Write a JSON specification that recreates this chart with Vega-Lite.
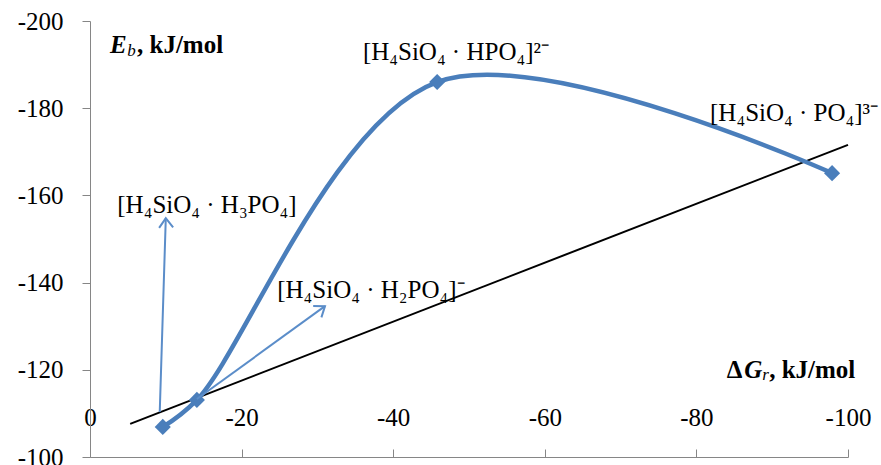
{
  "$schema": "https://vega.github.io/schema/vega-lite/v6.json",
  "width": 758,
  "height": 436,
  "autosize": "none",
  "padding": {"left": 90, "top": 21, "right": 33, "bottom": 8},
  "background": "white",
  "config": {"view": {"stroke": null}},
  "encoding": {
    "x": {"field": "x", "type": "quantitative",
      "scale": {"domain": [-100, 0], "reverse": true, "nice": false, "zero": false},
      "axis": {"title": null, "orient": "bottom", "values": [0, -20, -40, -60, -80, -100],
        "labelExpr": "'' + datum.value",
        "grid": false, "domainColor": "#868686", "domainWidth": 1, "tickColor": "#868686", "tickSize": -8,
        "labelFont": "Liberation Serif", "labelFontSize": 25, "labelColor": "#000000", "labelPadding": -32,
        "labelBaseline": "middle", "labelFlush": false, "labelOverlap": false}},
    "y": {"field": "y", "type": "quantitative",
      "scale": {"domain": [-200, -100], "reverse": true, "nice": false, "zero": false},
      "axis": {"title": null, "values": [-200, -180, -160, -140, -120, -100],
        "labelExpr": "'' + datum.value",
        "grid": false, "domainColor": "#868686", "domainWidth": 1, "tickColor": "#868686", "tickSize": 8,
        "labelFont": "Liberation Serif", "labelFontSize": 25, "labelColor": "#000000", "labelPadding": 19,
        "labelBaseline": "middle", "labelFlush": false, "labelOverlap": false}}
  },
  "layer": [
    {
      "data": {"values": [{"x": -5.3, "y": -107.6}, {"x": -100, "y": -171.6}]},
      "mark": {"type": "line", "color": "#000000", "strokeWidth": 2, "clip": false}
    },
    {
      "data": {"values": [
        {"x": -9.6, "y": -106.9},
        {"x": -14.1, "y": -113.1},
        {"x": -45.8, "y": -186.0},
        {"x": -97.9, "y": -165.1}
      ]},
      "layer": [
        {"mark": {"type": "line", "color": "#4A7EBB", "strokeWidth": 4.5, "interpolate": "catmull-rom"}},
        {"mark": {"type": "point", "shape": "diamond", "filled": true, "size": 260, "color": "#4A7EBB", "opacity": 1}}
      ]
    },
    {
      "data": {"values": [
        {"name": "a1", "x": -9.2, "y": -110.3, "x2": -10.0, "y2": -154.8},
        {"name": "a2", "x": -14.1, "y": -113.3, "x2": -31.0, "y2": -134.6}
      ]},
      "mark": {"type": "rule", "color": "#5B8DC9", "strokeWidth": 2},
      "encoding": {"x2": {"field": "x2"}, "y2": {"field": "y2"}}
    },
    {
      "data": {"values": [{"name": "a1", "x": -10.0, "y": -154.8}]},
      "mark": {"type": "point", "shape": "M-0.7,0.95L0,0L0.7,0.95", "filled": false, "size": 400, "color": "#5B8DC9", "strokeWidth": 2, "opacity": 1, "angle": -2}
    },
    {
      "data": {"values": [{"name": "a2", "x": -31.0, "y": -134.6}]},
      "mark": {"type": "point", "shape": "M-0.7,0.95L0,0L0.7,0.95", "filled": false, "size": 400, "color": "#5B8DC9", "strokeWidth": 2, "opacity": 1, "angle": 54}
    },
    {
      "data": {"values": [
        {"label": "[H₄SiO₄ · HPO₄]²⁻", "x": -36.0, "y": -192.9},
        {"label": "[H₄SiO₄ · PO₄]³⁻", "x": -81.8, "y": -178.9},
        {"label": "[H₄SiO₄ · H₃PO₄]", "x": -3.6, "y": -157.8},
        {"label": "[H₄SiO₄ · H₂PO₄]⁻", "x": -24.7, "y": -138.3}
      ]},
      "mark": {"type": "text", "align": "left", "baseline": "middle", "font": "Liberation Serif", "fontSize": 25, "color": "#000000"},
      "encoding": {"text": {"field": "label"}}
    },
    {
      "data": {"values": [
        {"t": "E", "x": -2.64, "y": -194.5},
        {"t": "G", "x": -86.3, "y": -119.95}
      ]},
      "mark": {"type": "text", "align": "left", "baseline": "middle", "font": "Liberation Serif", "fontSize": 25, "fontWeight": "bold", "fontStyle": "italic", "color": "#000000"},
      "encoding": {"text": {"field": "t"}}
    },
    {
      "data": {"values": [
        {"t": "b", "x": -4.9, "y": -193.2},
        {"t": "r", "x": -88.7, "y": -118.7}
      ]},
      "mark": {"type": "text", "align": "left", "baseline": "middle", "font": "Liberation Serif", "fontSize": 17, "fontStyle": "italic", "color": "#000000"},
      "encoding": {"text": {"field": "t"}}
    },
    {
      "data": {"values": [
        {"t": ", kJ/mol", "x": -6.2, "y": -194.5},
        {"t": "Δ", "x": -84.0, "y": -119.95},
        {"t": ", kJ/mol", "x": -89.6, "y": -119.95}
      ]},
      "mark": {"type": "text", "align": "left", "baseline": "middle", "font": "Liberation Serif", "fontSize": 25, "fontWeight": "bold", "color": "#000000"},
      "encoding": {"text": {"field": "t"}}
    }
  ]
}
